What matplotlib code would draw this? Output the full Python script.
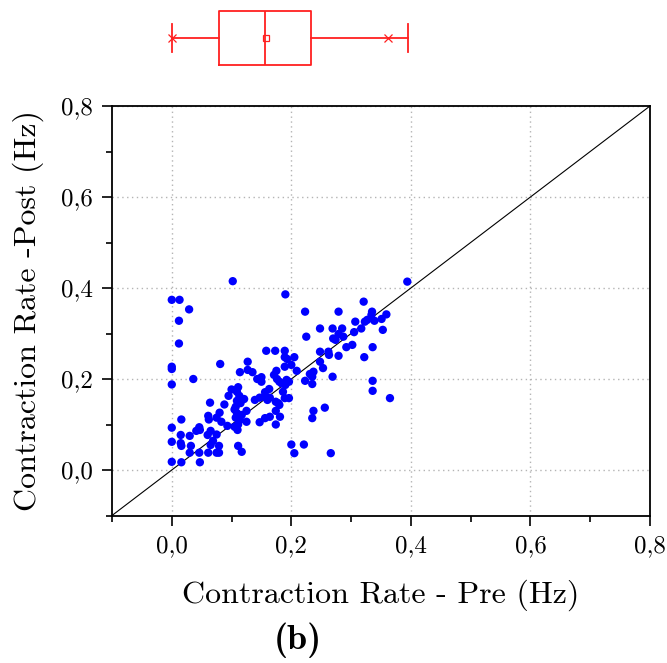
import matplotlib
matplotlib.use("Agg")
import matplotlib.pyplot as plt
from matplotlib.ticker import MultipleLocator, FuncFormatter
import numpy as np

plt.rcParams["font.family"] = ["cmr10", "DejaVu Serif"]
plt.rcParams["axes.formatter.use_mathtext"] = True

# Contraction rate (Hz) per sample, before and after
pre = [
    0.000, 0.013, 0.000, 0.000, 0.000, 0.000, 0.000, 0.000,
    0.029, 0.012, 0.012, 0.036,
    0.102, 0.190, 0.394,
    0.081,
    0.158, 0.173, 0.189,
    0.127,
    0.189, 0.193, 0.205,
    0.189, 0.200, 0.209,
    0.114, 0.127, 0.135,
    0.143, 0.150, 0.150,
    0.175, 0.171, 0.176, 0.180,
    0.192, 0.196, 0.190,
    0.100, 0.111, 0.109,
    0.163, 0.156,
    0.095,
    0.113, 0.121, 0.109, 0.115, 0.107,
    0.139, 0.147, 0.156, 0.164, 0.160,
    0.174, 0.180, 0.189, 0.196,
    0.064, 0.088,
    0.080, 0.075, 0.083,
    0.061, 0.062,
    0.105, 0.109, 0.117,
    0.107, 0.114, 0.125,
    0.125, 0.111,
    0.093,
    0.016,
    0.046, 0.041, 0.047,
    0.065,
    0.060, 0.075,
    0.030, 0.015,
    0.105, 0.110,
    0.015, 0.016,
    0.032,
    0.065, 0.079, 0.069,
    0.111, 0.117,
    0.030, 0.046, 0.061, 0.075, 0.079,
    0.016, 0.047,
    0.200, 0.205, 0.221, 0.266,
    0.181, 0.174, 0.178,
    0.147, 0.156, 0.164, 0.174,
    0.321, 0.223, 0.279,
    0.359, 0.351, 0.335, 0.334, 0.327, 0.323, 0.339,
    0.307, 0.353, 0.317, 0.305,
    0.269, 0.285, 0.279, 0.287, 0.274, 0.270,
    0.248, 0.225,
    0.302, 0.292, 0.336,
    0.248, 0.262, 0.263, 0.279, 0.248, 0.253,
    0.322,
    0.237, 0.231, 0.235, 0.223, 0.235,
    0.269,
    0.184, 0.186,
    0.256, 0.237, 0.235,
    0.336, 0.336, 0.365,
]
post = [
    0.374, 0.374, 0.227, 0.222, 0.188, 0.093, 0.062, 0.018,
    0.353, 0.328, 0.278, 0.200,
    0.415, 0.386, 0.414,
    0.233,
    0.262, 0.262, 0.262,
    0.238,
    0.248, 0.244, 0.248,
    0.227, 0.231, 0.218,
    0.215, 0.220, 0.215,
    0.200, 0.204, 0.194,
    0.218, 0.209, 0.200, 0.194,
    0.198, 0.194, 0.187,
    0.177, 0.182, 0.172,
    0.178, 0.171,
    0.163,
    0.163, 0.156, 0.152, 0.147, 0.139,
    0.154, 0.159, 0.161, 0.159, 0.154,
    0.150, 0.143, 0.158, 0.158,
    0.148, 0.144,
    0.126, 0.115, 0.106,
    0.119, 0.111,
    0.133, 0.125, 0.121,
    0.115, 0.110, 0.106,
    0.130, 0.100,
    0.097,
    0.111,
    0.094, 0.086, 0.088,
    0.086,
    0.077, 0.078,
    0.075, 0.077,
    0.095, 0.088,
    0.059, 0.053,
    0.053,
    0.055, 0.053, 0.064,
    0.053, 0.040,
    0.038, 0.038, 0.038, 0.038, 0.038,
    0.017, 0.017,
    0.056, 0.037, 0.056, 0.037,
    0.117, 0.130, 0.147,
    0.105, 0.114, 0.117, 0.100,
    0.370, 0.348, 0.348,
    0.342, 0.332, 0.348, 0.341, 0.330, 0.326, 0.328,
    0.326, 0.308, 0.311, 0.303,
    0.311, 0.311, 0.299, 0.293, 0.286, 0.289,
    0.311, 0.293,
    0.275, 0.270, 0.270,
    0.260, 0.260, 0.253, 0.251, 0.238, 0.224,
    0.248,
    0.216, 0.211, 0.205, 0.196, 0.189,
    0.205,
    0.190, 0.172,
    0.137, 0.130, 0.114,
    0.196, 0.174, 0.158,
]

# Summary of the Pre distribution shown in the box plot
pre_q1, pre_median, pre_q3 = 0.079, 0.156, 0.233
pre_mean = 0.158
pre_min, pre_max = 0.000, 0.395
pre_p01, pre_p99 = 0.000, 0.361

W, H = 667, 663
fig = plt.figure(figsize=(W / 100, H / 100), dpi=100)

left, right = 112 / W, 650 / W
bottom, top = (H - 515.5) / H, (H - 106) / H
ax = fig.add_axes([left, bottom, right - left, top - bottom])

ax.set_xlim(-0.1, 0.8)
ax.set_ylim(-0.1, 0.8)

ax.grid(True, which="major", color="#b4b4b4", linestyle=(0, (1, 2.5)), linewidth=1.0)
ax.set_axisbelow(True)

lims = np.array([-0.1, 0.8])
ax.plot(lims, lims, color="black", linewidth=0.8, zorder=2)

ax.scatter(pre, post, s=36, color="#0000ff", edgecolors="none", zorder=3)

fmt = FuncFormatter(lambda v, p: f"{v:.1f}".replace(".", ","))
for axis in (ax.xaxis, ax.yaxis):
    axis.set_major_locator(MultipleLocator(0.2))
    axis.set_minor_locator(MultipleLocator(0.1))
    axis.set_major_formatter(fmt)
ax.set_xticks(np.arange(0.0, 0.81, 0.2))
ax.set_yticks(np.arange(0.0, 0.81, 0.2))

ax.tick_params(which="major", direction="out", length=7, width=1.2, labelsize=18, pad=7,
               top=False, right=False)
ax.tick_params(which="minor", direction="out", length=4, width=1.2, top=False, right=False)
for sp in ax.spines.values():
    sp.set_linewidth(1.3)

ax.set_xlabel("Contraction Rate - Pre (Hz)", fontsize=23, labelpad=16)
ax.set_ylabel("Contraction Rate -Post (Hz)", fontsize=23, labelpad=12)

fig.text(298 / W, 1 - 640 / H, "(b)", fontsize=26, fontweight="bold",
         family=["cmb10", "DejaVu Serif"], ha="center", va="center")

# Box plot of the Pre values above the scatter
bax = fig.add_axes([left, (H - 71) / H, right - left, 66 / H])
stats = [dict(med=pre_median, q1=pre_q1, q3=pre_q3, whislo=pre_min, whishi=pre_max,
              mean=pre_mean, fliers=[])]
red = "#ff2020"
bax.bxp(stats, positions=[1], widths=[54 / 66 * 2], capwidths=[28 / 66 * 2],
        orientation="horizontal", showmeans=True, showfliers=False,
        boxprops=dict(color=red, linewidth=1.3),
        whiskerprops=dict(color=red, linewidth=1.3),
        capprops=dict(color=red, linewidth=1.3),
        medianprops=dict(color=red, linewidth=1.3),
        meanprops=dict(marker="s", markerfacecolor="none", markeredgecolor=red,
                       markersize=5, markeredgewidth=0.9))
bax.plot([pre_p01, pre_p99], [1, 1], linestyle="none", marker="x", color=red,
         markersize=6, markeredgewidth=0.9)
bax.set_xlim(-0.1, 0.8)
bax.set_ylim(0, 2)
bax.axis("off")

fig.savefig("out.png", dpi=100)
